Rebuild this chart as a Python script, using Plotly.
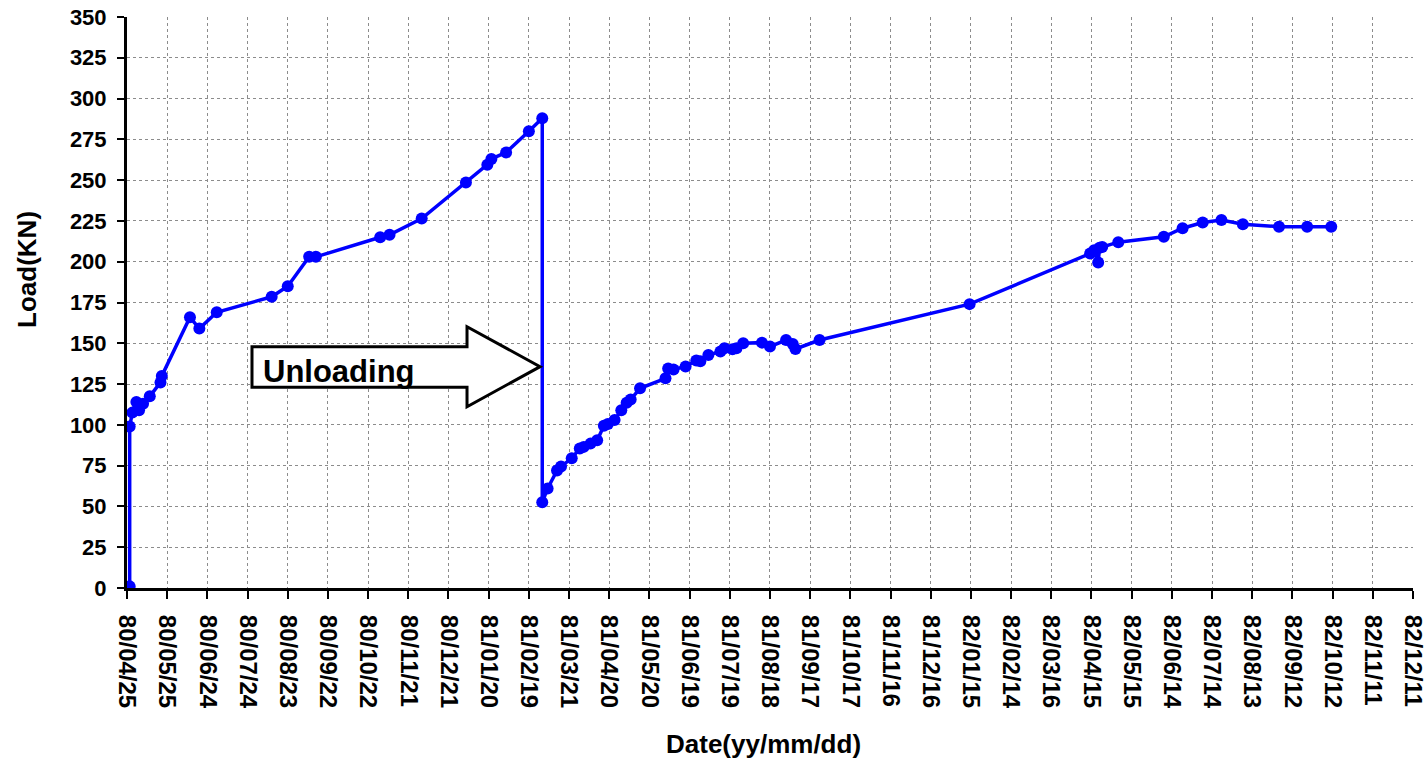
import pandas as pd
import plotly.graph_objects as go

# ---------------- data ----------------
DATES = [
    "1980-04-27", "1980-04-27", "1980-04-29", "1980-05-02", "1980-05-04", "1980-05-07",
    "1980-05-12", "1980-05-20", "1980-05-21", "1980-06-11", "1980-06-18", "1980-07-01",
    "1980-08-11", "1980-08-23", "1980-09-08", "1980-09-13", "1980-10-31", "1980-11-07",
    "1980-12-01", "1981-01-03", "1981-01-19", "1981-01-22", "1981-02-02", "1981-02-19",
    "1981-03-01", "1981-03-01",
    "1981-03-05", "1981-03-12", "1981-03-15", "1981-03-23", "1981-03-29", "1981-04-01",
    "1981-04-06", "1981-04-11", "1981-04-16", "1981-04-19", "1981-04-24", "1981-04-29",
    "1981-05-03", "1981-05-06", "1981-05-13", "1981-06-01", "1981-06-03", "1981-06-07",
    "1981-06-16", "1981-06-24", "1981-06-27", "1981-07-03", "1981-07-12", "1981-07-15",
    "1981-07-21", "1981-07-24", "1981-07-29", "1981-08-12", "1981-08-18", "1981-08-30",
    "1981-09-04", "1981-09-06", "1981-09-24", "1982-01-14", "1982-04-14", "1982-04-17",
    "1982-04-20", "1982-04-21", "1982-04-23", "1982-05-05", "1982-06-08", "1982-06-22",
    "1982-07-07", "1982-07-21", "1982-08-06", "1982-09-02", "1982-09-23", "1982-10-11",
]
LOAD_KN = [
    1, 99, 107.5, 114, 109, 113,
    117.5, 126, 130, 166, 159, 169,
    178.5, 185, 203, 203, 215, 216.5,
    226.5, 248.5, 259.5, 263, 267, 280,
    288, 52.5,
    61, 72, 74.5, 79.5, 85.5, 86.5,
    88.5, 90.5, 99.5, 100.5, 103, 109,
    113.5, 115.5, 122.4, 128.5, 134.5, 134,
    135.8, 139.5, 139, 142.8, 145, 147,
    146.3, 147, 150, 150.4, 148, 152,
    149.5, 146.5, 152, 174, 205, 207,
    199.5, 208.5, 209, 212, 215.3, 220.5,
    224, 225.5, 223, 221.5, 221.5, 221.5,
]

X_START = "1980-04-25"
X_END = "1982-12-11 00:30"
TICK_STEP_DAYS = 30
Y_MAX = 350
Y_STEP = 25

ANNOT_TEXT = "Unloading"
X_TITLE = "Date(yy/mm/dd)"
Y_TITLE = "Load(KN)"

FONT = "Liberation Sans, Arial, sans-serif"
BLUE = "#0000FF"

x_dates = pd.to_datetime(DATES)

fig = go.Figure()
fig.add_trace(go.Scatter(
    x=x_dates, y=LOAD_KN, mode="lines+markers",
    line=dict(color=BLUE, width=3.5),
    marker=dict(color=BLUE, size=12),
    showlegend=False,
))

# arrow (paper coords)
arrow_path = ("M 0.0972,0.4226 L 0.2644,0.4226 L 0.2644,0.4576 L 0.3212,0.3876 "
              "L 0.2644,0.3175 L 0.2644,0.3515 L 0.0972,0.3515 Z")
fig.add_shape(type="path", path=arrow_path, xref="paper", yref="paper",
              fillcolor="white", line=dict(color="black", width=3), layer="above")

fig.add_annotation(text=ANNOT_TEXT, xref="paper", yref="paper", x=0.1652, y=0.380,
                   showarrow=False, xanchor="center", yanchor="middle",
                   font=dict(family=FONT, size=31, color="black", weight="bold"))

fig.add_annotation(text=X_TITLE, xref="paper", yref="paper", x=0.4946, y=-0.2732,
                   showarrow=False, xanchor="center", yanchor="middle",
                   font=dict(family=FONT, size=26, color="black", weight="bold"))
fig.add_annotation(text=Y_TITLE, xref="paper", yref="paper", x=-0.0778, y=0.5587,
                   showarrow=False, xanchor="center", yanchor="middle", textangle=-90,
                   font=dict(family=FONT, size=26, color="black", weight="bold"))

fig.update_layout(
    width=1426, height=766,
    margin=dict(l=127, r=13, t=17, b=178, autoexpand=False),
    paper_bgcolor="white", plot_bgcolor="white",
    xaxis=dict(
        type="date", range=[X_START, X_END], automargin=False,
        tick0=X_START, dtick=TICK_STEP_DAYS * 86400000, tickformat="%y/%m/%d",
        tickangle=90, ticklabeloverflow="allow", ticklabelstandoff=11,
        tickfont=dict(family=FONT, size=24, color="black", weight="bold"),
        showgrid=True, gridcolor="#8c8c8c", griddash="dot", gridwidth=1.2,
        showline=True, linecolor="black", linewidth=3,
        ticks="outside", ticklen=8, tickwidth=2, tickcolor="black",
        zeroline=False,
    ),
    yaxis=dict(
        range=[0, Y_MAX], dtick=Y_STEP, tick0=0, automargin=False,
        ticklabeloverflow="allow",
        tickfont=dict(family=FONT, size=22, color="black", weight="bold"),
        showgrid=True, gridcolor="#8c8c8c", griddash="dot", gridwidth=1.2,
        showline=True, linecolor="black", linewidth=3,
        ticks="outside", ticklen=7, tickwidth=2, tickcolor="black",
        zeroline=False, ticklabelstandoff=6,
    ),
)

fig.write_html("out.html", config={"displayModeBar": False},
               post_script="document.body.style.margin='0';")
